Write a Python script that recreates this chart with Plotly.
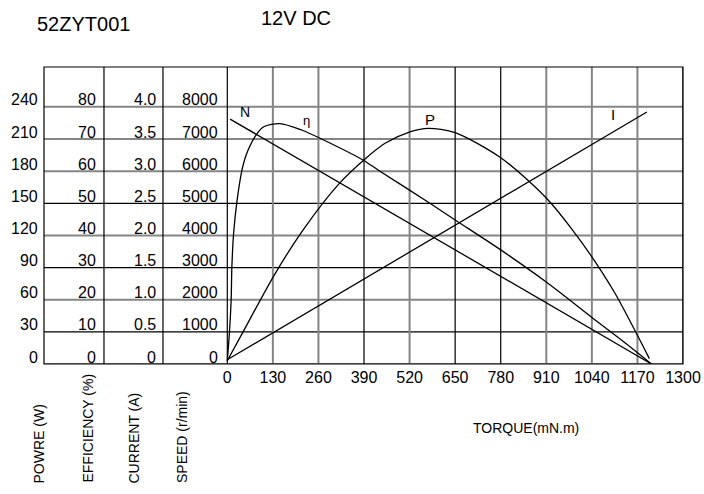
import plotly.graph_objects as go

# ---------------- data ----------------
torque_ticks = [0, 130, 260, 390, 520, 650, 780, 910, 1040, 1170, 1300]
speed_ticks = [0, 1000, 2000, 3000, 4000, 5000, 6000, 7000, 8000]
power_labels = ["0", "30", "60", "90", "120", "150", "180", "210", "240"]
eff_labels = ["0", "10", "20", "30", "40", "50", "60", "70", "80"]
current_labels = ["0", "0.5", "1.0", "1.5", "2.0", "2.5", "3.0", "3.5", "4.0"]
speed_labels = ["0", "1000", "2000", "3000", "4000", "5000", "6000", "7000", "8000"]

n_torque = [8, 1210]
n_speed = [7620, 0]

i_torque = [1, 1197]
i_current = [0.07, 3.92]

eff_torque = [0, 6, 11, 13, 18, 28, 44, 59, 85, 104, 150, 212, 269, 388, 431,
              578, 650, 780, 910, 1040, 1130, 1210]
eff_values = [1, 9.6, 20, 30, 40.7, 51, 61.4, 66.5, 71.7, 73.8, 74.8, 72.8, 70,
              63.4, 60.3, 50, 44.8, 35.5, 25.5, 14.5, 7, 0]

power_torque = [0, 45, 134, 217, 321, 388, 450, 521, 573, 650, 778, 859, 921,
                978, 1040, 1106, 1168, 1204]
power_values = [3, 30, 83, 125.5, 169, 190, 206, 216.7, 220, 216, 193, 171, 151,
                128, 100, 66, 28, 5]

h_grid_colors = ["gray", "black", "gray", "black", "gray", "black", "gray", "gray", "gray"]
v_grid_colors = ["black", "gray", "gray", "black", "gray", "black", "black", "gray",
                 "gray", "gray", "black"]

# ---------------- layout constants ----------------
FONT = "Liberation Sans, Arial, sans-serif"
XMIN = -522.9
YMAX = 9240
COL_LINES = [-351.8, -183.5]
LABEL_X = [-368.0, -198.6, -20.8]
GRAY = "#858585"

fig = go.Figure()
line_style = dict(color="black", width=1.3)
fig.add_trace(go.Scatter(x=n_torque, y=n_speed, mode="lines", line=line_style, yaxis="y"))
fig.add_trace(go.Scatter(x=i_torque, y=i_current, mode="lines", line=line_style, yaxis="y4"))
fig.add_trace(go.Scatter(x=eff_torque, y=eff_values, mode="lines",
                         line=dict(color="black", width=1.3, shape="spline", smoothing=0.8),
                         yaxis="y3"))
fig.add_trace(go.Scatter(x=power_torque, y=power_values, mode="lines",
                         line=dict(color="black", width=1.3, shape="spline", smoothing=0.8),
                         yaxis="y2"))

shapes = []
for v, c in zip(speed_ticks, h_grid_colors):
    shapes.append(dict(type="line", xref="x", yref="y", x0=XMIN, x1=1300, y0=v, y1=v,
                       line=dict(color=GRAY if c == "gray" else "black",
                                 width=2 if c == "gray" else 1.2), layer="below"))
for t, c in zip(torque_ticks, v_grid_colors):
    shapes.append(dict(type="line", xref="x", yref="y", x0=t, x1=t, y0=0, y1=YMAX,
                       line=dict(color=GRAY if c == "gray" else "black",
                                 width=2 if c == "gray" else 1.2), layer="below"))
for cx in COL_LINES:
    shapes.append(dict(type="line", xref="x", yref="y", x0=cx, x1=cx, y0=0, y1=YMAX,
                       line=dict(color="black", width=1.2), layer="below"))
shapes.append(dict(type="rect", xref="paper", yref="paper", x0=0, x1=1, y0=0, y1=1,
                   line=dict(color="black", width=1.2)))

annotations = []
label_font = dict(family=FONT, size=16, color="black")
# power column sits just outside the left frame
for v, lab in zip(speed_ticks, power_labels):
    annotations.append(dict(x=0, y=v, xref="paper", yref="y", text=lab, showarrow=False,
                            xanchor="right", yanchor="middle", xshift=-4, yshift=7,
                            font=label_font))
for col, labels in enumerate([eff_labels, current_labels, speed_labels]):
    for v, lab in zip(speed_ticks, labels):
        annotations.append(dict(x=LABEL_X[col], y=v, xref="x", yref="y", text=lab,
                                showarrow=False, xanchor="right", yanchor="middle",
                                yshift=7, font=label_font))

# curve labels
curve_labels = [("N", 50.5, 7835, 14), ("η", 226.5, 7587, 13), ("P", 578, 7618, 15),
                ("I", 1099.5, 7764, 15)]
for txt, x, y, s in curve_labels:
    annotations.append(dict(x=x, y=y, xref="x", yref="y", text=txt, showarrow=False,
                            font=dict(family=FONT, size=s, color="black")))

# titles
annotations.append(dict(x=0.0618, y=1.1458, xref="paper", yref="paper", text="52ZYT001",
                        showarrow=False, xanchor="center", yanchor="middle",
                        font=dict(family=FONT, size=20, color="black")))
annotations.append(dict(x=0.3944, y=1.165, xref="paper", yref="paper", text="12V DC",
                        showarrow=False, xanchor="center", yanchor="middle",
                        font=dict(family=FONT, size=20, color="black")))

# rotated axis names
axis_names = ["POWRE (W)", "EFFICIENCY (%)", "CURRENT (A)", "SPEED (r/min)"]
axis_name_x = [-0.0063, 0.0689, 0.1424, 0.216]
for txt, x in zip(axis_names, axis_name_x):
    annotations.append(dict(x=x, y=-0.4074, xref="paper", yref="paper", text=txt,
                            showarrow=False, textangle=-90, xanchor="center", yanchor="bottom",
                            font=dict(family=FONT, size=14, color="black")))

annotations.append(dict(x=0.7543, y=-0.2155, xref="paper", yref="paper", text="TORQUE(mN.m)",
                        showarrow=False, xanchor="center", yanchor="middle",
                        font=dict(family=FONT, size=14, color="black")))

fig.update_layout(
    width=704, height=494,
    margin=dict(l=44, r=21, t=67, b=130, autoexpand=False),
    plot_bgcolor="white", paper_bgcolor="white", showlegend=False,
    shapes=shapes, annotations=annotations,
    xaxis=dict(range=[XMIN, 1300], tickvals=torque_ticks,
               ticktext=[str(t) for t in torque_ticks], showgrid=False, zeroline=False,
               showline=False, ticks="", ticklabelstandoff=2,
               tickfont=dict(family=FONT, size=16, color="black")),
    yaxis=dict(range=[0, YMAX], visible=False),
    yaxis2=dict(range=[0, 277.2], overlaying="y", visible=False),
    yaxis3=dict(range=[0, 92.4], overlaying="y", visible=False),
    yaxis4=dict(range=[0, 4.62], overlaying="y", visible=False),
)

fig.write_html("out.html", config={"displayModeBar": False},
               post_script="document.body.style.margin='0';document.body.style.padding='0';")
